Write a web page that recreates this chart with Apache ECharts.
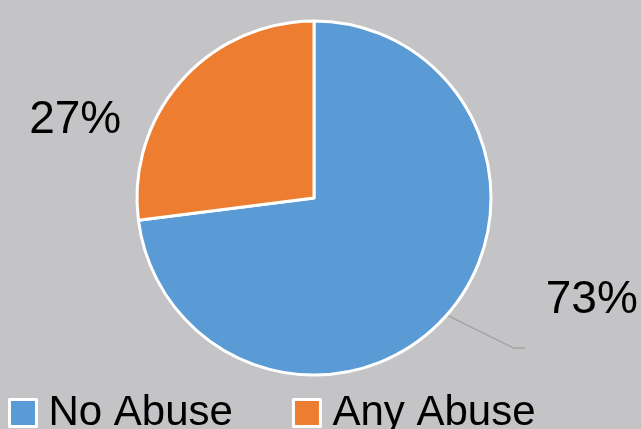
<!DOCTYPE html>
<html>
<head>
<meta charset="utf-8">
<style>
  html, body { margin: 0; padding: 0; background: #c4c4c6; }
  #chart { width: 641px; height: 429px; }
</style>
<script src="https://cdn.jsdelivr.net/npm/echarts@6/dist/echarts.min.js"></script>
</head>
<body>
<div id="chart"></div>
<script>
// Share of respondents by abuse status (percent)
const categories = ['No Abuse', 'Any Abuse'];
const shares = [73, 27];
const colors = ['#5b9bd5', '#ed7d31'];

const chart = echarts.init(document.getElementById('chart'), null, { renderer: 'canvas' });

const FONT = 'Liberation Sans, Arial, sans-serif';

chart.setOption({
  animation: false,
  backgroundColor: '#c4c4c6',
  color: colors,
  legend: {
    data: categories,
    left: 8,
    top: 392,
    padding: 0,
    icon: 'rect',
    itemWidth: 27,
    itemHeight: 27,
    itemGap: 59,
    itemStyle: { borderColor: '#ffffff', borderWidth: 3 },
    textStyle: {
      fontFamily: FONT,
      fontSize: 42,
      color: '#000000',
      padding: [0, 0, 0, 7]
    }
  },
  series: [{
    type: 'pie',
    center: [314, 198],
    radius: [0, 177],
    startAngle: 90,
    clockwise: true,
    silent: true,
    itemStyle: { borderColor: '#ffffff', borderWidth: 3 },
    label: {
      show: true,
      position: 'outside',
      formatter: '{c}%',
      fontFamily: FONT,
      fontSize: 46,
      color: '#000000'
    },
    labelLine: {
      show: true,
      length: 20,
      length2: 10,
      lineStyle: { color: '#a3a3a3', width: 1.5 }
    },
    labelLayout: function (p) {
      const pts = p.labelLinePoints;
      if (!pts) return {};
      const s = pts[0];
      if (p.dataIndex === 0) {
        // big slice: callout sits to the right with a bent leader line
        return {
          x: s[0] + 145,
          y: s[1] - 15,
          align: 'center',
          verticalAlign: 'middle',
          labelLinePoints: [
            [s[0], s[1]],
            [s[0] + 67, s[1] + 33],
            [s[0] + 78, s[1] + 33]
          ]
        };
      }
      return {
        x: s[0] - 106,
        y: s[1] + 39,
        align: 'center',
        verticalAlign: 'middle'
      };
    },
    data: categories.map(function (name, i) {
      const item = { name: name, value: shares[i] };
      if (i === 1) item.labelLine = { show: false };
      return item;
    })
  }]
});
</script>
</body>
</html>
